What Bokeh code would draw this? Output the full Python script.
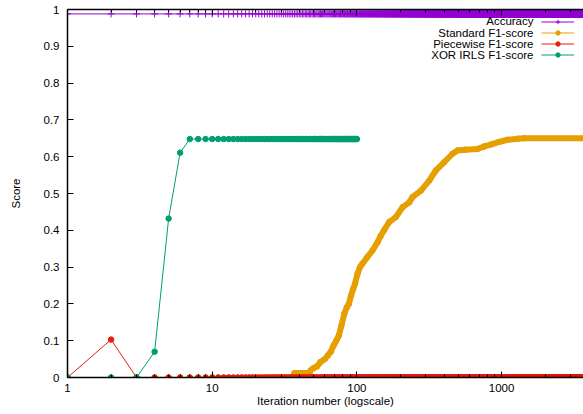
from bokeh.plotting import figure
from bokeh.models import (FixedTicker, PrintfTickFormatter, LogAxis, Legend,
                          LegendItem, Label, Range1d)
from bokeh.embed import file_html
from bokeh.resources import INLINE
from bokeh.core.properties import value

# ---------------- data ----------------
n_iter = 3700
iterations = list(range(1, n_iter + 1))

accuracy = [0.988] * n_iter

piecewise_f1 = [0.0, 0.103, 0.0] + [0.0] * (n_iter - 3)

xor_iters = list(range(1, 101))
xor_f1 = [0.0, 0.0, 0.0, 0.07, 0.432, 0.611, 0.648] + [0.648] * 93

std_zero_iters = list(range(1, 37))
std_zero_f1 = [0.0] * 36
std_iters = [36, 37, 47, 48, 50, 53, 56, 60, 63, 66, 69, 72, 75, 78, 82, 85,
             88, 91, 94, 97, 101, 105, 109, 118, 128, 139, 146, 154, 167, 186,
             207, 230, 242, 277, 316, 351, 401, 458, 496, 560, 681, 760, 842,
             960, 1099, 1300, 1432, 3700]
std_f1 = [0.0, 0.012, 0.012, 0.02, 0.025, 0.03, 0.042, 0.05, 0.06, 0.07,
          0.087, 0.1, 0.114, 0.14, 0.174, 0.19, 0.2, 0.222, 0.24, 0.255, 0.282,
          0.3, 0.309, 0.327, 0.345, 0.368, 0.385, 0.4, 0.422, 0.436, 0.463,
          0.476, 0.49, 0.508, 0.535, 0.5625, 0.585, 0.608, 0.617, 0.619, 0.621,
          0.628, 0.633, 0.64, 0.646, 0.649, 0.65, 0.65]

series_names = ["Accuracy", "Standard F1-score", "Piecewise F1-score",
                "XOR IRLS F1-score"]
colors = ["#9400d3", "#e69f00", "#e51e10", "#009e73"]

x_ticks = [1, 10, 100, 1000]
x_minor_ticks = [2, 3, 4, 5, 6, 7, 8, 9, 20, 30, 40, 50, 60, 70, 80, 90,
                 200, 300, 400, 500, 600, 700, 800, 900, 2000, 3000]
y_ticks = [0, 0.1, 0.2, 0.3, 0.4, 0.5, 0.6, 0.7, 0.8, 0.9, 1]

FONT = "Liberation Sans"
FS = "11.5px"

# ---------------- figure ----------------
p = figure(width=583, height=414, x_axis_type="log",
           x_range=Range1d(1, 3680), y_range=Range1d(0, 1),
           output_backend="svg", toolbar_location=None,
           min_border_left=67, min_border_right=0, min_border_top=9,
           min_border_bottom=37,
           x_axis_label="Iteration number (logscale)", y_axis_label="Score")
p.outline_line_color = None
p.grid.grid_line_color = None
p.background_fill_color = "white"
p.border_fill_color = "white"

for ax in p.xaxis:
    ax.ticker = FixedTicker(ticks=x_ticks, minor_ticks=x_minor_ticks)
    ax.formatter = PrintfTickFormatter(format="%g")
for ax in p.yaxis:
    ax.ticker = FixedTicker(ticks=y_ticks)
    ax.formatter = PrintfTickFormatter(format="%g")

for ax in list(p.xaxis) + list(p.yaxis):
    ax.axis_line_color = "black"
    ax.axis_line_width = 1.5
    ax.major_tick_line_color = "black"
    ax.minor_tick_line_color = "black"
    ax.major_tick_in = 6
    ax.major_tick_out = 0
    ax.minor_tick_in = 3
    ax.minor_tick_out = 0
    ax.major_label_text_font = FONT
    ax.major_label_text_font_size = FS
    ax.major_label_text_color = "black"
    ax.axis_label_text_font = FONT
    ax.axis_label_text_font_size = FS
    ax.axis_label_text_font_style = "normal"
    ax.axis_label_text_color = "black"

p.yaxis.minor_tick_line_color = None
p.yaxis.major_label_standoff = 8
p.yaxis.axis_label_standoff = 19
p.xaxis.major_label_standoff = 6
p.xaxis.axis_label_standoff = 0

top = LogAxis(ticker=FixedTicker(ticks=x_ticks, minor_ticks=x_minor_ticks),
              axis_line_color="black", axis_line_width=1.5,
              major_tick_in=6, major_tick_out=0, minor_tick_in=3,
              minor_tick_out=0, major_tick_line_color="black",
              minor_tick_line_color="black", major_label_text_font_size="1px",
              major_label_text_color=None, major_label_standoff=0)
p.add_layout(top, "above")

# ---------------- series ----------------
acc_line = p.line(iterations, accuracy, line_color=colors[0], line_width=1)
acc_pts = p.scatter(iterations, accuracy, marker="cross", size=7,
                    line_color=colors[0], line_width=1)

std_zero_line = p.line(std_zero_iters, std_zero_f1, line_color=colors[1],
                       line_width=1)
p.scatter(std_zero_iters, std_zero_f1, marker="circle", size=5.5,
          fill_color=colors[1], line_color=colors[1])
p.line(std_iters, std_f1, line_color=colors[1], line_width=6,
       line_join="round", line_cap="round")
std_pts = p.scatter(std_iters, std_f1, marker="circle", size=5.5,
                    fill_color=colors[1], line_color=colors[1])

pw_line = p.line(iterations, piecewise_f1, line_color=colors[2], line_width=1)
pw_pts = p.scatter(iterations, piecewise_f1, marker="circle", size=5.5,
                   fill_color=colors[2], line_color=colors[2])

xor_line = p.line(xor_iters, xor_f1, line_color=colors[3], line_width=1)
xor_pts = p.scatter(xor_iters, xor_f1, marker="circle", size=5.5,
                    fill_color=colors[3], line_color=colors[3])

# ---------------- legend (samples on the right, text on the left) -------
legend = Legend(items=[
    LegendItem(label=value(" "), renderers=[acc_line, acc_pts]),
    LegendItem(label=value(" "), renderers=[std_zero_line, std_pts]),
    LegendItem(label=value(" "), renderers=[pw_line, pw_pts]),
    LegendItem(label=value(" "), renderers=[xor_line, xor_pts]),
], location=(474, 317), glyph_width=33, glyph_height=11, label_height=11,
    label_standoff=0, padding=0, spacing=0, margin=0,
    label_text_font_size="1px", border_line_color=None,
    background_fill_alpha=0)
p.add_layout(legend, "center")

row_y = [356.1, 344.5, 333.5, 322.2]
for name, yy in zip(series_names, row_y):
    p.add_layout(Label(x=466, y=yy, x_units="screen", y_units="screen",
                       text=name, text_align="right", text_baseline="middle",
                       text_font=FONT, text_font_size=FS,
                       text_color="black"))

open("out.html", "w").write(file_html(p, INLINE))
